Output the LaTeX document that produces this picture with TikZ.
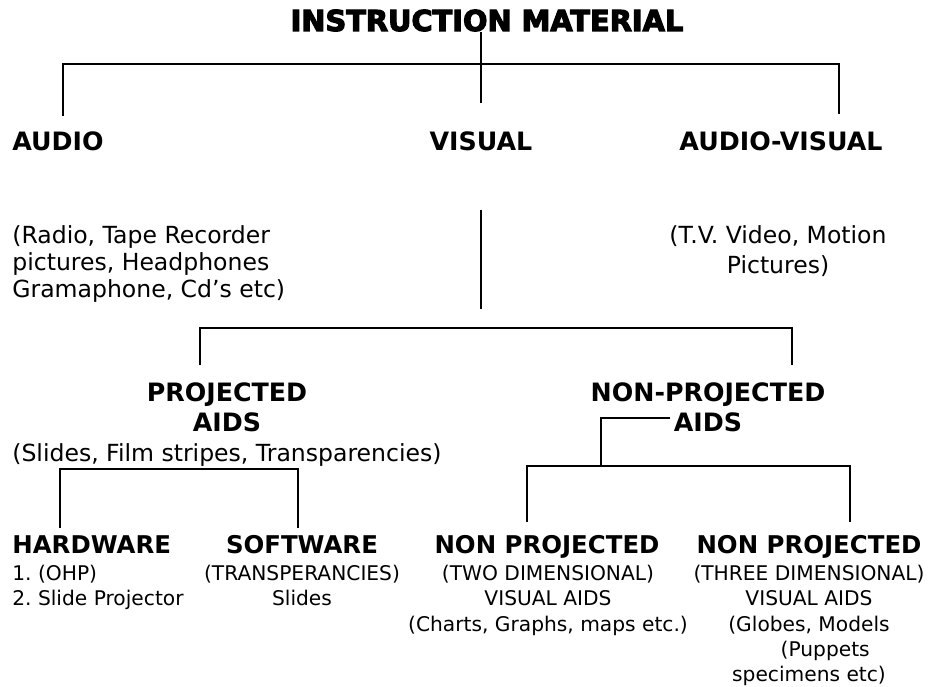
\documentclass[tikz,border=0pt]{standalone}
\usepackage{fontspec}
\setmainfont{DejaVu Sans}
\newfontface\heavyfont[FakeBold=4]{DejaVu Sans Bold}
\usetikzlibrary{positioning}

\begin{document}
\frenchspacing
\begin{tikzpicture}[x=0.02cm, y=-0.02cm,
  tTitle/.style={font=\fontsize{16.4}{18}\heavyfont, inner sep=0pt},
  tHead/.style ={font=\fontsize{14.4}{17}\selectfont\bfseries, inner sep=0pt},
  tNote/.style ={font=\fontsize{13.4}{15.4}\selectfont, inner sep=0pt},
  tSub/.style  ={font=\fontsize{13.9}{15}\selectfont\bfseries, inner sep=0pt},
  tSmall/.style={font=\fontsize{11.5}{14.4}\selectfont, inner sep=0pt},
  tLine/.style ={line width=1.2pt},
]
\useasboundingbox (0,0) rectangle (932,686);

% top level
\node[tTitle, anchor=base] (title) at (487,31) {INSTRUCTION MATERIAL};
\node[tHead, anchor=base west] (audio) at (12,150) {AUDIO};
\node[tHead, anchor=base] (visual) at (481,150) {VISUAL};
\node[tHead, anchor=base] (audiovis) at (781,150) {AUDIO-VISUAL};

\node[tNote, anchor=north west, align=left] (audionote) at (12,225)
  {(Radio, Tape Recorder\\pictures, Headphones\\Gramaphone, Cd’s etc)};
\node[tNote, anchor=north, align=center, font=\fontsize{13.4}{17}\selectfont] (avnote) at (778,225)
  {(T.V. Video, Motion\\Pictures)};

% visual aids
\node[tHead, anchor=north, align=center] (projected) at (227,382) {PROJECTED\\AIDS};
\node[tHead, anchor=north, align=center] (nonproj) at (708,382) {NON-PROJECTED\\AIDS};
\node[tNote, anchor=north west] (projnote) at (12,443) {(Slides, Film stripes, Transparencies)};

% lowest level
\node[tSub, anchor=base west] (hardware) at (12,553) {HARDWARE};
\node[tSmall, anchor=north west, align=left] (hwnote) at (12,565) {1. (OHP)\\2. Slide Projector};
\node[tSub, anchor=base] (software) at (302,553) {SOFTWARE};
\node[tSmall, anchor=north, align=center] (swnote) at (302,565) {(TRANSPERANCIES)\\Slides};
\node[tSub, anchor=base] (twod) at (547,553) {NON PROJECTED};
\node[tSmall, anchor=north, align=center] (twodnote) at (548,565)
  {(TWO DIMENSIONAL)\\VISUAL AIDS\\(Charts, Graphs, maps etc.)};
\node[tSub, anchor=base] (threed) at (809,553) {NON PROJECTED};
\node[tSmall, anchor=north, align=center] (threednote) at (809,565)
  {(THREE DIMENSIONAL)\\VISUAL AIDS\\(Globes, Models\\\hspace*{1.6em}(Puppets\\specimens etc)};

% bars
\coordinate (topL) at (63,64);
\coordinate (topR) at (839,64);
\coordinate (midL) at (200,328);
\coordinate (midR) at (792,328);
\coordinate (lowL) at (60,469);
\coordinate (lowR) at (298,469);
\coordinate (npL) at (527,466);
\coordinate (npR) at (850,466);
\coordinate (npHook) at (670,418);
\coordinate (npJoin) at (601,466);

\draw[tLine] (title.south -| visual) -- ([yshift=16pt]visual.north);
\draw[tLine] ([yshift=8.5pt]audio.north -| topL) -- (topL) -- (topR) -- ([yshift=9.7pt]audiovis.north -| topR);
\draw[tLine] ([yshift=-34pt]visual.south) -- ([yshift=11pt]visual.south |- midL);
\draw[tLine] ([yshift=9.7pt]projected.north -| midL) -- (midL) -- (midR) -- ([yshift=9.7pt]nonproj.north -| midR);
\draw[tLine] ([yshift=4pt]hardware.north -| lowL) -- (lowL) -- (lowR) -- ([yshift=4pt]software.north -| lowR);
\draw[tLine] (npHook) -| (npJoin);
\draw[tLine] ([yshift=7pt]twod.north -| npL) -- (npL) -- (npR) -- ([yshift=7pt]threed.north -| npR);
\end{tikzpicture}
\end{document}
